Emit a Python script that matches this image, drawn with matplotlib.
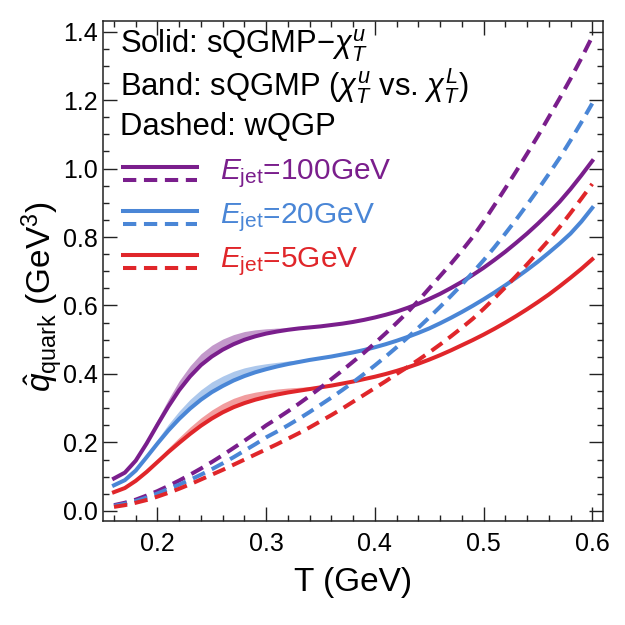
import numpy as np
import matplotlib
matplotlib.use("Agg")
import matplotlib.pyplot as plt

plt.rcParams['font.family'] = ['Liberation Sans', 'DejaVu Sans']
plt.rcParams['mathtext.fontset'] = 'custom'
plt.rcParams['mathtext.rm'] = 'Liberation Sans'
plt.rcParams['mathtext.it'] = 'Liberation Sans:italic'
plt.rcParams['mathtext.bf'] = 'Liberation Sans:bold'

# temperature grid (GeV), 0.16 ... 0.60 in steps of 0.01
T = np.round(np.arange(0.16, 0.605, 0.01), 2)

# sQGMP - chi_T^u (solid lines)
sq_100 = [0.095, 0.112, 0.147, 0.197, 0.252, 0.305, 0.353, 0.393, 0.426, 0.451,
          0.471, 0.487, 0.500, 0.510, 0.518, 0.524, 0.529, 0.533, 0.536, 0.539,
          0.543, 0.547, 0.552, 0.558, 0.565, 0.573, 0.582, 0.593, 0.605, 0.619,
          0.634, 0.651, 0.669, 0.689, 0.710, 0.733, 0.757, 0.783, 0.810, 0.839,
          0.870, 0.903, 0.940, 0.980, 1.022]
sq_20 = [0.075, 0.090, 0.118, 0.157, 0.197, 0.235, 0.269, 0.299, 0.325, 0.347,
         0.365, 0.381, 0.394, 0.405, 0.414, 0.422, 0.429, 0.435, 0.441, 0.446,
         0.451, 0.457, 0.463, 0.470, 0.478, 0.487, 0.497, 0.508, 0.520, 0.533,
         0.548, 0.564, 0.581, 0.599, 0.618, 0.638, 0.659, 0.681, 0.704, 0.728,
         0.754, 0.781, 0.810, 0.845, 0.885]
sq_5 = [0.055, 0.067, 0.088, 0.114, 0.143, 0.172, 0.199, 0.225, 0.249, 0.270,
        0.288, 0.303, 0.315, 0.325, 0.333, 0.340, 0.346, 0.351, 0.356, 0.361,
        0.366, 0.372, 0.378, 0.385, 0.392, 0.400, 0.409, 0.419, 0.430, 0.442,
        0.455, 0.469, 0.484, 0.499, 0.515, 0.532, 0.550, 0.569, 0.589, 0.610,
        0.632, 0.656, 0.681, 0.707, 0.735]

# band width: chi_T^L result minus chi_T^u result
band_100 = [0, 0, 0.004, 0.009, 0.015, 0.021, 0.027, 0.031, 0.033, 0.033,
            0.031, 0.028, 0.024, 0.019, 0.014, 0.010, 0.006, 0.003, 0.001, 0,
            0, 0, 0, 0, 0, 0, 0, 0, 0, 0, 0, 0, 0, 0, 0, 0, 0, 0, 0, 0, 0, 0, 0, 0, 0]
band_20 = [0, 0, 0.003, 0.007, 0.012, 0.018, 0.023, 0.027, 0.029, 0.030,
           0.029, 0.027, 0.024, 0.020, 0.016, 0.012, 0.009, 0.006, 0.004, 0.002,
           0.001, 0, 0, 0, 0, 0, 0, 0, 0, 0, 0, 0, 0, 0, 0, 0, 0, 0, 0, 0, 0, 0, 0, 0, 0]
band_5 = [0, 0, 0.002, 0.005, 0.008, 0.012, 0.016, 0.020, 0.023, 0.025,
          0.026, 0.026, 0.025, 0.022, 0.019, 0.016, 0.013, 0.010, 0.007, 0.004,
          0.002, 0.001, 0, 0, 0, 0, 0, 0, 0, 0, 0, 0, 0, 0, 0, 0, 0, 0, 0, 0, 0, 0, 0, 0, 0]

# wQGP (dashed lines)
wq_100 = [0.017, 0.024, 0.033, 0.045, 0.058, 0.073, 0.089, 0.106, 0.124, 0.143,
          0.163, 0.184, 0.205, 0.227, 0.250, 0.270, 0.291, 0.313, 0.336, 0.360,
          0.385, 0.410, 0.436, 0.462, 0.490, 0.519, 0.549, 0.580, 0.614, 0.650,
          0.686, 0.722, 0.760, 0.800, 0.845, 0.893, 0.942, 0.992, 1.043, 1.095,
          1.150, 1.205, 1.262, 1.322, 1.385]
wq_20 = [0.015, 0.021, 0.029, 0.039, 0.051, 0.064, 0.077, 0.091, 0.106, 0.122,
         0.139, 0.157, 0.176, 0.195, 0.215, 0.232, 0.250, 0.269, 0.289, 0.310,
         0.331, 0.353, 0.376, 0.400, 0.425, 0.451, 0.478, 0.506, 0.535, 0.565,
         0.596, 0.628, 0.661, 0.696, 0.732, 0.770, 0.810, 0.851, 0.894, 0.938,
         0.984, 1.031, 1.082, 1.135, 1.190]
wq_5 = [0.012, 0.017, 0.024, 0.032, 0.042, 0.053, 0.065, 0.078, 0.092, 0.106,
        0.120, 0.135, 0.150, 0.165, 0.180, 0.195, 0.211, 0.227, 0.244, 0.262,
        0.280, 0.299, 0.319, 0.339, 0.359, 0.379, 0.400, 0.420, 0.441, 0.463,
        0.486, 0.510, 0.535, 0.561, 0.590, 0.621, 0.653, 0.686, 0.720, 0.755,
        0.791, 0.829, 0.870, 0.912, 0.955]

labels = ['100GeV', '20GeV', '5GeV']
colors = ['#7a1e8c', '#4a86d6', '#e0262a']
solids = [sq_100, sq_20, sq_5]
bands = [band_100, band_20, band_5]
dashed = [wq_100, wq_20, wq_5]

LW = 2.9
DASH = (3.3, 1.9)

fig = plt.figure(figsize=(6.25, 6.25), dpi=100)
ax = fig.add_axes([0.165, 0.166, 0.8, 0.8])

for s, b, c in zip(solids, bands, colors):
    s = np.array(s)
    ax.fill_between(T, s, s + np.array(b), color=c, alpha=0.45, lw=0)
for s, c in zip(solids, colors):
    ax.plot(T, s, color=c, lw=LW, solid_joinstyle='round')
for d, c in zip(dashed, colors):
    ax.plot(T, d, color=c, lw=LW, dashes=DASH)

ax.set_xlim(0.15, 0.61)
ax.set_ylim(-0.03, 1.43)
ax.set_xticks([0.2, 0.3, 0.4, 0.5, 0.6])
ax.set_xticks(np.arange(0.16, 0.61, 0.02), minor=True)
ax.set_yticks([0.0, 0.2, 0.4, 0.6, 0.8, 1.0, 1.2, 1.4])
ax.set_yticks(np.arange(0.0, 1.43, 0.05), minor=True)
ax.xaxis.set_major_formatter(matplotlib.ticker.FormatStrFormatter('%.1f'))
ax.yaxis.set_major_formatter(matplotlib.ticker.FormatStrFormatter('%.1f'))
ax.tick_params(which='both', direction='in', top=True, right=True, width=1.0, colors='#222222')
ax.tick_params(which='major', length=10)
ax.tick_params(which='minor', length=4)
ax.tick_params(axis='x', which='major', pad=8, labelsize=18, labelcolor='black')
ax.tick_params(axis='y', which='major', pad=4, labelsize=18, labelcolor='black')
for sp in ax.spines.values():
    sp.set_linewidth(1.1)
    sp.set_color('#222222')

ax.set_xlabel('T (GeV)', fontsize=24, labelpad=8)
ax.set_ylabel(r'$\hat{q}_{\rm quark}$ (GeV$^3$)', fontsize=24, labelpad=-2)
ax.yaxis.label.set_y(0.45)

ax.text(0.034, 0.936, r'Solid: sQGMP$-\chi_T^u$', transform=ax.transAxes, fontsize=22.3, va='baseline')
ax.text(0.034, 0.852, r'Band: sQGMP ($\chi_T^u$ vs. $\chi_T^L$)', transform=ax.transAxes, fontsize=22.3, va='baseline')
ax.text(0.034, 0.772, 'Dashed: wQGP', transform=ax.transAxes, fontsize=22.3, va='baseline')

# legend drawn by hand: solid over dashed, then coloured label
ys = [0.695, 0.608, 0.52]
for y0, c, lab in zip(ys, colors, labels):
    ax.plot([0.04, 0.188], [y0 + 0.013, y0 + 0.013], transform=ax.transAxes, color=c, lw=LW)
    ax.plot([0.04, 0.188], [y0 - 0.013, y0 - 0.013], transform=ax.transAxes, color=c, lw=LW,
            dashes=DASH)
    ax.text(0.234, y0, r'$E_{\rm jet}$=' + lab, transform=ax.transAxes, fontsize=21.5,
            va='center', color=c)

fig.savefig('out.png', dpi=100)
